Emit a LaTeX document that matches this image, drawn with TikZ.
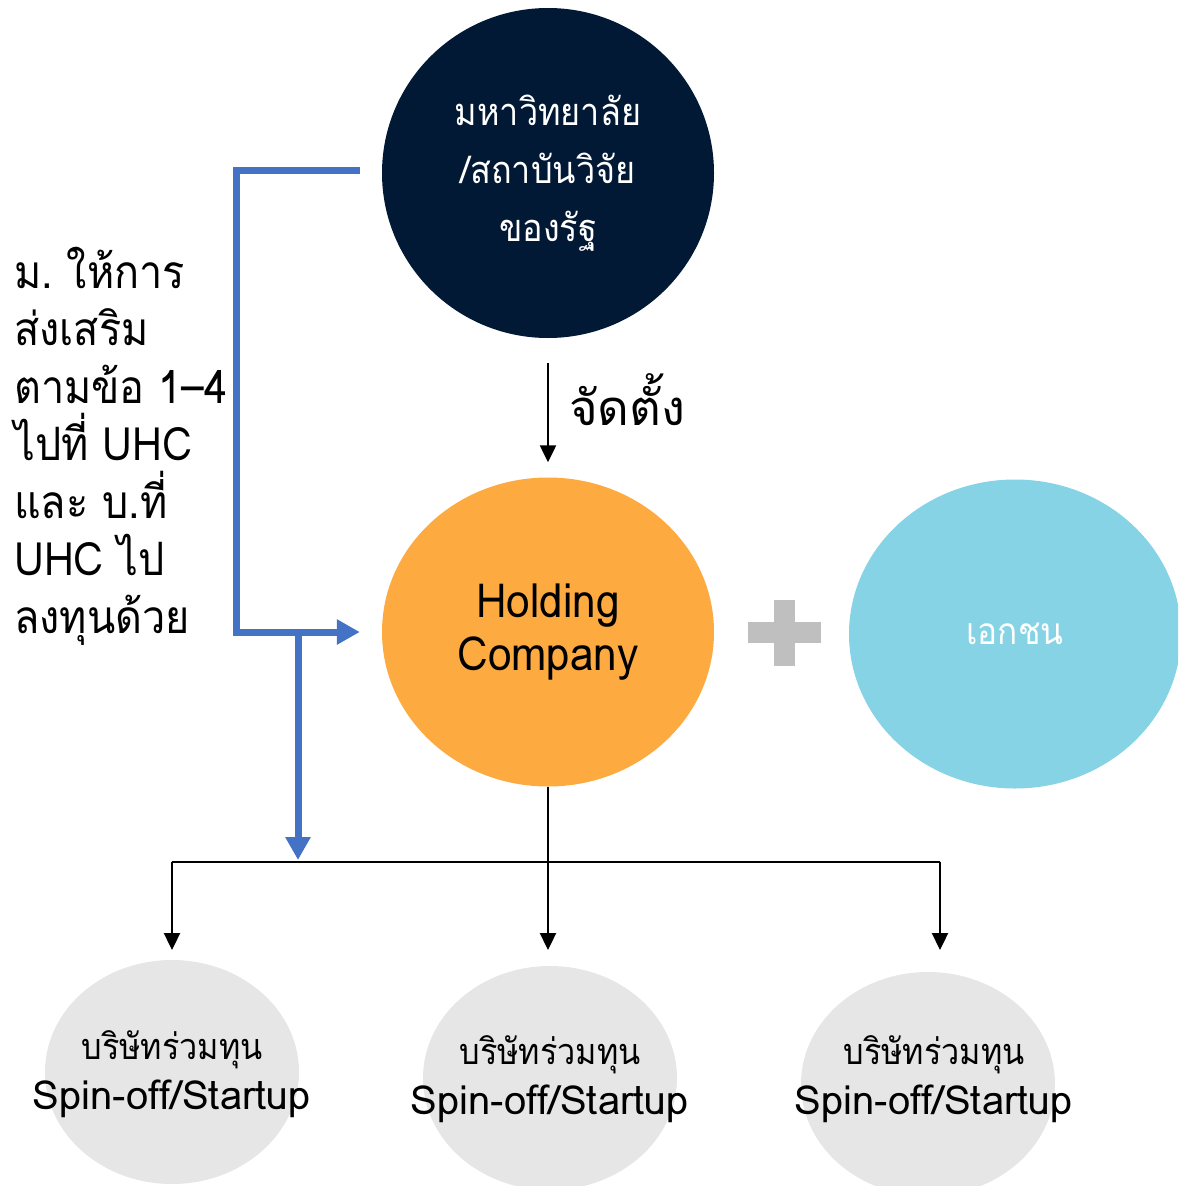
\documentclass[tikz,border=0pt]{standalone}
\usepackage{fontspec}
\setmainfont[Script=Thai]{Loma}
\newfontfamily\thaiC[Script=Thai,FakeStretch=0.9]{Loma}
\usetikzlibrary{shapes.geometric,arrows.meta}
\definecolor{navy}{RGB}{1,25,52}
\definecolor{orangeF}{RGB}{253,170,64}
\definecolor{skyF}{RGB}{135,211,230}
\definecolor{greyF}{RGB}{230,230,230}
\definecolor{plusF}{RGB}{191,191,191}
\definecolor{blueL}{RGB}{68,114,196}
\tikzset{
  bubble/.style={ellipse, inner sep=0, align=center},
  small/.style={ellipse, inner sep=0, fill=greyF, minimum width=254pt, minimum height=224pt},
  smalltext/.style={inner sep=0, align=center, font=\fontsize{40}{50}\selectfont},
  blueline/.style={draw=blueL, line width=7pt, miter limit=10},
  blkline/.style={draw=black, line width=2.3pt},
  blkarrow/.style={blkline, -{Triangle[width=16pt,length=17pt]}},
  bluearrow/.style={blueline, -{Triangle[width=24pt,length=23pt]}},
}
\newcommand{\spintext}{{\thaiC\fontsize{36}{50}\selectfont บริษัทร่วมทุน}\\{\fontsize{40}{50}\selectfont Spin-off/Startup}}
\begin{document}
\frenchspacing
\begin{tikzpicture}[x=1pt,y=-1pt]
\useasboundingbox (0,0) rectangle (1178,1186);
\clip (0,0) rectangle (1178,1186);
% main nodes
\node[bubble, fill=navy, minimum width=332pt, minimum height=330pt, text=white,
      font=\thaiC\fontsize{38}{58}\selectfont] (uni) at (548,173) {มหาวิทยาลัย\\/สถาบันวิจัย\\ของรัฐ};
\node[bubble, fill=orangeF, minimum width=332pt, minimum height=309pt,
      font=\thaiC\fontsize{47}{53}\selectfont] (hold) at (548,632) {Holding\\Company};
\node[bubble, fill=skyF, minimum width=332pt, minimum height=309pt, text=white,
      font=\thaiC\fontsize{37}{40}\selectfont] (priv) at (1015,634) {เอกชน};
% plus sign
\fill[plusF] (748,622) rectangle (821,643);
\fill[plusF] (774,600) rectangle (795,666);
% bottom nodes
\node[small] (s1) at (172,1072) {};
\node[small] (s2) at (550,1078) {};
\node[small] (s3) at (928,1084) {};
\node[smalltext] (s1t) at (172,1074) {\spintext};
\node[smalltext] (s2t) at (550,1079) {\spintext};
\node[smalltext] (s3t) at (934,1079) {\spintext};
% left text
\node[anchor=base west, align=left, inner sep=0,
      font=\thaiC\fontsize{46}{57.5}\selectfont] (note) at (14,633)
  {ม. ให้การ\\ส่งเสริม\\ตามข้อ 1–4\\ไปที่ UHC\\และ บ.ที่\\UHC ไป\\ลงทุนด้วย};
% black connectors
\draw[blkarrow, shorten <=25pt, shorten >=15pt] (uni.south) -- (hold.north);
\node[anchor=base west, inner sep=0, font=\fontsize{49}{50}\selectfont] (setup) at (569,425) {จัดตั้ง};
\coordinate (busL) at (172,862);
\coordinate (busM) at (hold.south |- busL);
\coordinate (busR) at (940,862);
\coordinate (t1) at (172,950);
\coordinate (t2) at (busM |- 0,950);
\coordinate (t3) at (940,950);
\draw[blkline] (hold.south) -- (busM);
\draw[blkline] (busL) -- (busR);
\draw[blkarrow] (busL) -- (t1);
\draw[blkarrow] (busM) -- (t2);
\draw[blkarrow] (busR) -- (t3);
% blue connectors
\coordinate (bstart) at (360,170);
\coordinate (bcorner1) at (236,170);
\coordinate (bcorner2) at (236,632);
\coordinate (bsplit) at (298,632);
\coordinate (bend) at (298,860);
\draw[bluearrow] (bstart) -- (bcorner1) -- (bcorner2) -- ([xshift=-22pt]hold.west);
\draw[bluearrow] (bsplit) -- (bend);
\end{tikzpicture}
\end{document}
